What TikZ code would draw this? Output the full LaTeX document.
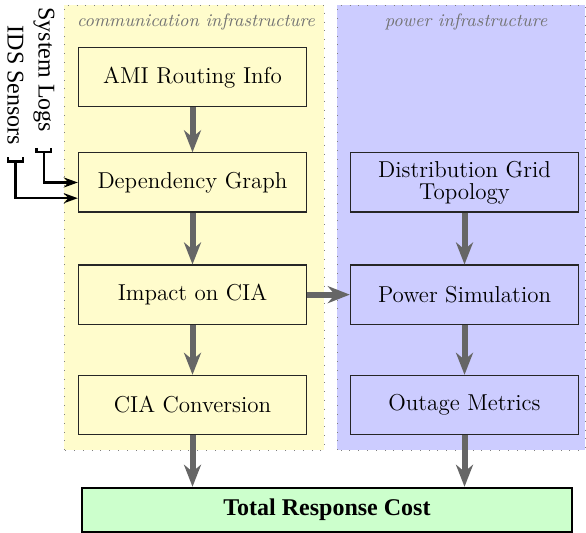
\documentclass[tikz,border=0pt]{standalone}
\usepackage{fontspec}
\setmainfont{Liberation Serif}
\newfontfamily\boxfont{Latin Modern Roman}
\usetikzlibrary{arrows.meta,positioning}

\begin{document}
\begin{tikzpicture}[
    box/.style={rectangle, draw=black!85, semithick, minimum width=4.01cm, minimum height=1.04cm, align=center, font=\boxfont\fontsize{11.5pt}{13pt}\selectfont},
    flow/.style={draw=black!60, line width=3pt, -{Stealth[length=11pt, width=8.5pt, inset=3.5pt]}},
    feed/.style={draw=black, line width=1.2pt, {Bracket[reversed, width=8.5pt, length=2pt]}-{Stealth[length=7pt, width=5pt]}},
    region/.style={draw=black!50, loosely dotted},
    tag/.style={font=\boxfont\fontsize{9pt}{11pt}\selectfont\itshape, text=black!55},
    side/.style={rotate=-90, font=\fontsize{12pt}{14pt}\selectfont}
]
\useasboundingbox (0,0) rectangle (10.298,9.366);

% background regions
\draw[region, fill=yellow!20] (1.125,1.459) rectangle (5.694,9.279);
\draw[region, fill=blue!20] (5.922,1.459) rectangle (10.280,9.279);

\node[tag] (commlabel) at (3.444,8.980) {communication infrastructure};
\node[tag] (powerlabel) at (8.189,8.980) {power infrastructure};

% communication side
\node[box, fill=yellow!20] (ami) at (3.383,8.010) {AMI Routing Info};
\node[box, fill=yellow!20] (dep) at (3.383,6.159) {Dependency Graph};
\node[box, fill=yellow!20] (impact) at (3.383,4.188) {Impact on CIA};
\node[box, fill=yellow!20] (ciaconv) at (3.383,2.249) {CIA Conversion};

% power side
\node[box, fill=blue!20] (grid) at (8.163,6.159) {Distribution Grid\\[-2pt]Topology};
\node[box, fill=blue!20] (powersim) at (8.163,4.188) {Power Simulation};
\node[box, fill=blue!20] (outage) at (8.163,2.249) {Outage Metrics};

% total
\node[box, very thick, draw=black, fill=green!20, minimum width=8.611cm, minimum height=0.773cm, font=\fontsize{12pt}{14pt}\selectfont\bfseries] (total) at (5.746,0.404) {Total Response Cost};

% inputs
\node[side] (syslogs) at (0.773,8.136) {System Logs};
\node[side] (ids) at (0.272,7.864) {IDS Sensors};

\draw[feed] ([yshift=-0.15cm]syslogs.east) |- (dep.west);
\draw[feed] ([yshift=-0.09cm]ids.east) |- ([yshift=-0.276cm]dep.west);

% flows
\draw[flow] (ami) -- (dep);
\draw[flow] (dep) -- (impact);
\draw[flow] (impact) -- (ciaconv);
\draw[flow] (grid) -- (powersim);
\draw[flow] (powersim) -- (outage);
\draw[flow] (impact) -- (powersim);
\draw[flow] (ciaconv.south) -- (ciaconv.south |- total.north);
\draw[flow] (outage.south) -- (outage.south |- total.north);

\end{tikzpicture}
\end{document}
